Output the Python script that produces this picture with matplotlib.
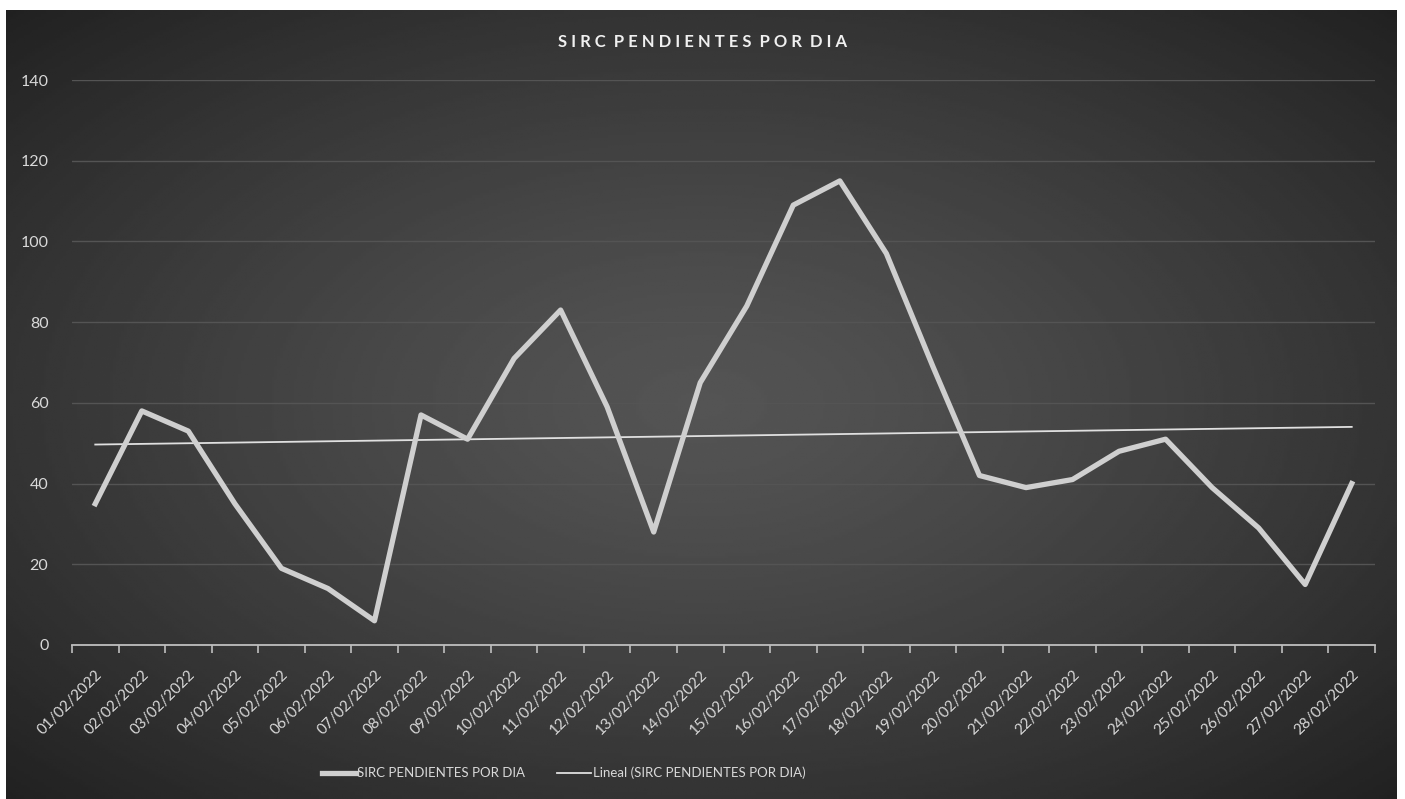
import numpy as np
import matplotlib
matplotlib.use("Agg")
import matplotlib.pyplot as plt

plt.rcParams['font.family'] = ['Lato', 'DejaVu Sans']

fechas = ["%02d/02/2022" % d for d in range(1, 29)]
pendientes = [35, 58, 53, 35, 19, 14, 6, 57, 51, 71, 83, 59, 28, 65,
              84, 109, 115, 97, 69, 42, 39, 41, 48, 51, 39, 29, 15, 40]
y_ticks = [0, 20, 40, 60, 80, 100, 120, 140]

txt = "#d9d9d9"

fig = plt.figure(figsize=(14.05, 7.99), dpi=100, facecolor="white")

# dark panel with radial gradient
bg = fig.add_axes([6/1405, 0, (1397-6)/1405, 1-10/799])
yy, xx = np.mgrid[-1:1:300j, -1:1:500j]
r = np.sqrt(xx**2 + yy**2) / np.sqrt(2)
grad = 0.33 - 0.20 * r**1.3
bg.imshow(grad, cmap="gray", vmin=0, vmax=1, aspect="auto", extent=[0, 1, 0, 1])
bg.set_axis_off()

ax = fig.add_axes([72/1405, 1-645/799, (1375-72)/1405, (645-80)/799])
ax.patch.set_alpha(0)
x = np.arange(len(fechas))
ax.plot(x, pendientes, color="#cfcfcf", lw=3.8, solid_joinstyle="round",
        label="SIRC PENDIENTES POR DIA", zorder=3)
m, b = np.polyfit(x, pendientes, 1)
ax.plot(x, m*x + b, color="#e0e0e0", lw=1.3, label="Lineal (SIRC PENDIENTES POR DIA)", zorder=2)

ax.set_xlim(-0.5, len(fechas)-0.5)
ax.set_ylim(0, 140)
ax.set_yticks(y_ticks)
ax.set_yticklabels([str(v) for v in y_ticks], color=txt, fontsize=11.5)
ax.set_xticks(np.arange(len(fechas)+1) - 0.5, minor=False)
ax.set_xticklabels([])
ax.set_xticks(x, minor=True)
ax.set_xticklabels(fechas, minor=True, rotation=45, ha="right", rotation_mode="anchor",
                   color=txt, fontsize=11)
ax.tick_params(axis="x", which="major", length=6, color="#bfbfbf", width=1.2)
ax.tick_params(axis="x", which="minor", length=0, pad=16)
ax.tick_params(axis="y", length=0, pad=17)
ax.grid(axis="y", color="#545454", lw=1)
ax.set_axisbelow(True)
for s in ["top", "right", "left"]:
    ax.spines[s].set_visible(False)
ax.spines["bottom"].set_color("#bfbfbf")
ax.spines["bottom"].set_linewidth(1.3)

fig.text(0.5, 1-42/799, "S I R C  P E N D I E N T E S  P O R  D I A",
         ha="center", va="center", color="#f0f0f0", fontsize=12, fontweight="bold")

leg = fig.legend(loc="center", bbox_to_anchor=(0.401, 1-773/799), ncol=2, frameon=False,
                 fontsize=9.5, handlelength=2.6, columnspacing=2.4, handletextpad=0.1)
for t in leg.get_texts():
    t.set_color(txt)

fig.savefig("out.png", dpi=100, facecolor="white")
